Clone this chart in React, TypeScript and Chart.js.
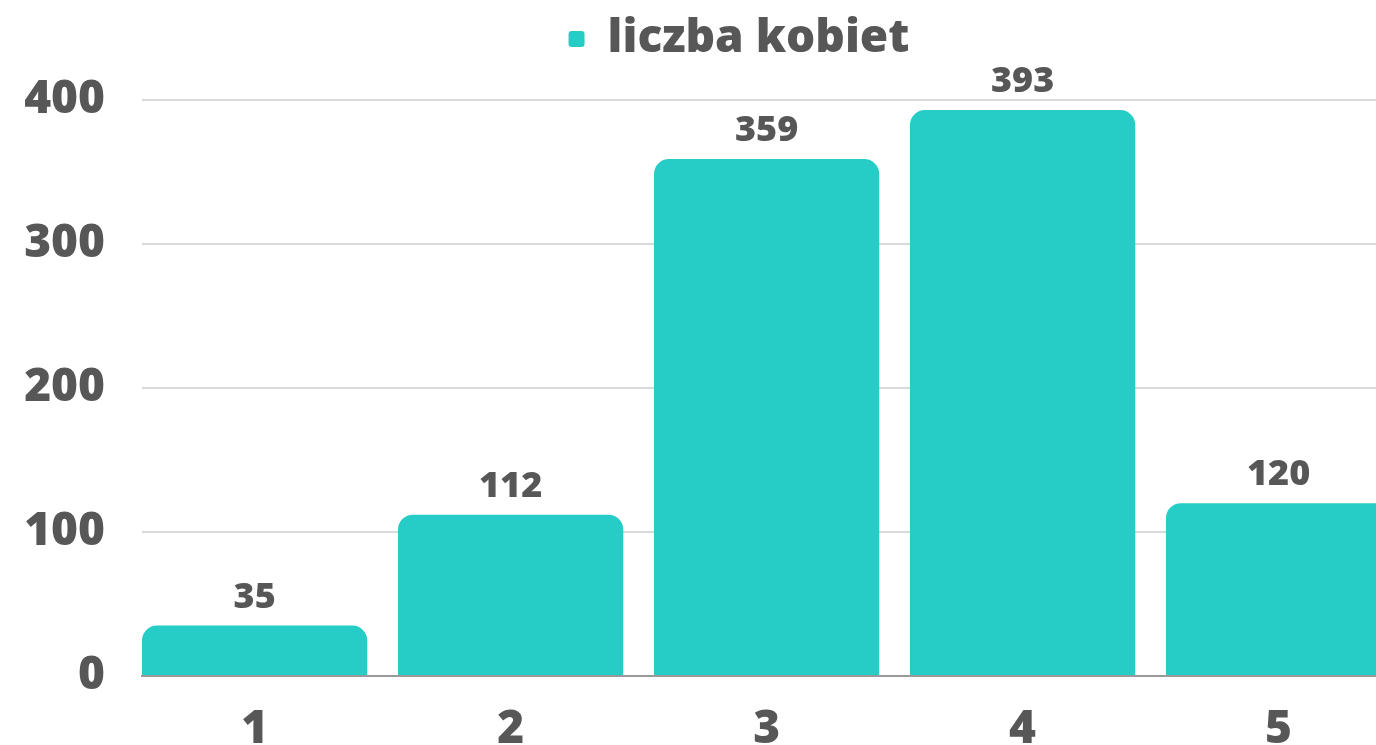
import { useEffect, useRef } from "react";
import { Chart, registerables } from "chart.js";

Chart.register(...registerables);

const categories = ["1", "2", "3", "4", "5"];
const values = [35, 112, 359, 393, 120];
const yTicks = [0, 100, 200, 300, 400];
const seriesLabel = "liczba kobiet";

const FONT = "'Open Sans', sans-serif";
const TEXT = "#575757";
const TEAL = "#26CDC6";

const valueLabels = {
  id: "valueLabels",
  afterDatasetsDraw(chart: any) {
    const ctx = chart.ctx;
    const meta = chart.getDatasetMeta(0);
    ctx.save();
    ctx.font = `800 36px ${FONT}`;
    ctx.fillStyle = TEXT;
    ctx.textAlign = "center";
    ctx.textBaseline = "alphabetic";
    meta.data.forEach((bar: any, i: number) => {
      ctx.fillText(String(values[i]), bar.x, bar.y - 18);
    });
    ctx.restore();
  },
};

export default function App() {
  const ref = useRef<HTMLCanvasElement>(null);
  useEffect(() => {
    const chart = new Chart(ref.current as HTMLCanvasElement, {
      type: "bar",
      data: {
        datasets: [
          {
            label: seriesLabel,
            data: values.map((v, i) => ({ x: i + 1, y: v })),
            backgroundColor: TEAL,
            borderWidth: 0,
            borderRadius: 15,
            borderSkipped: "start",
            categoryPercentage: 1,
            barPercentage: 0.88,
          },
        ],
      },
      options: {
        animation: false,
        responsive: false,
        devicePixelRatio: 1,
        layout: { padding: 0 },
        plugins: {
          tooltip: { enabled: false },
          legend: {
            display: true,
            position: "top",
            labels: {
              boxWidth: 16,
              boxHeight: 16,
              padding: 16,
              color: TEXT,
              useBorderRadius: true,
              borderRadius: 3,
              font: { family: FONT, size: 46, weight: "800" },
            },
          },
        },
        scales: {
          x: {
            type: "linear",
            min: 0.56,
            max: 5.779,
            offset: false,
            z: 1,
            grid: { display: false },
            border: { display: true, color: "#9a9a9a", width: 2 },
            afterBuildTicks: (s: any) => {
              s.ticks = categories.map((_, i) => ({ value: i + 1 }));
            },
            afterFit: (s: any) => {
              s.height = 69;
            },
            ticks: {
              autoSkip: false,
              maxRotation: 0,
              padding: 18,
              color: TEXT,
              font: { family: FONT, size: 46, weight: "800", lineHeight: 1.2 },
              callback: (v: any) => categories[Number(v) - 1] ?? "",
            },
          },
          y: {
            min: 0,
            max: 419.4,
            afterBuildTicks: (s: any) => {
              s.ticks = yTicks.map((v) => ({ value: v }));
            },
            afterFit: (s: any) => {
              s.width = 142;
            },
            border: { display: false },
            grid: {
              drawTicks: false,
              lineWidth: 2,
              color: (c: any) => (c.tick && c.tick.value === 0 ? "rgba(0,0,0,0)" : "#d9d9d9"),
            },
            ticks: {
              padding: 37,
              color: TEXT,
              font: { family: FONT, size: 46, weight: "800", lineHeight: 1.2 },
            },
          },
        },
      },
      plugins: [valueLabels],
    } as any);
    return () => chart.destroy();
  }, []);
  return (
    <div
      style={{
        position: "fixed",
        left: 0,
        top: 0,
        width: 1376,
        height: 745,
        overflow: "hidden",
        background: "#fff",
      }}
    >
      <canvas ref={ref} width={1478} height={745} style={{ display: "block", width: 1478, height: 745 }} />
    </div>
  );
}
